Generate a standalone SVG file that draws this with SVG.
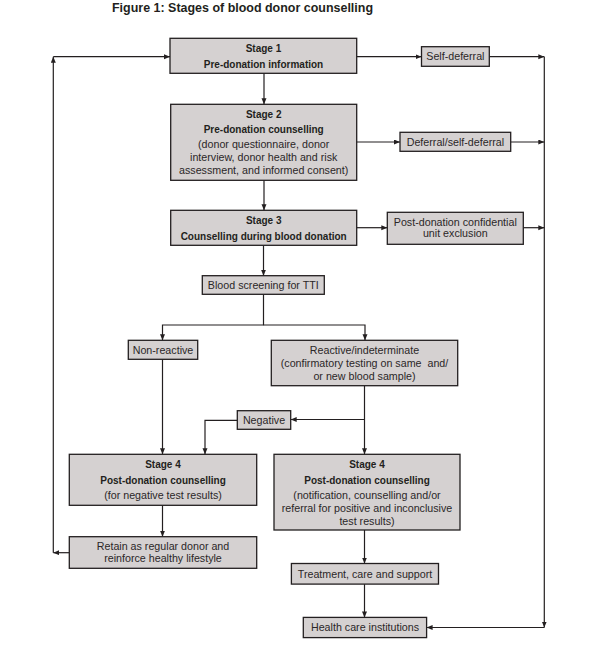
<svg xmlns="http://www.w3.org/2000/svg" width="597" height="647" viewBox="0 0 597 647">
<defs>
<marker id="ah" markerUnits="userSpaceOnUse" markerWidth="7" markerHeight="6" refX="6" refY="2.5" orient="auto">
<path d="M0,0 L6,2.5 L0,5 z" fill="#231f20"/>
</marker>
<style>
.box{fill:#d5d1d1;stroke:#231f20;stroke-width:1.3}
.t{font-family:"Liberation Sans",Arial,sans-serif;font-size:10.7px;fill:#2b2728;text-anchor:middle}
.b{font-weight:bold;font-size:10px;fill:#231f20}
.c{fill:none;stroke:#231f20;stroke-width:1.2}
.a{marker-end:url(#ah)}
</style>
</defs>
<rect width="597" height="647" fill="#ffffff"/>
<text x="242.5" y="12" font-family="'Liberation Sans',Arial,sans-serif" font-size="12.5" font-weight="bold" fill="#231f20" text-anchor="middle" textLength="261" lengthAdjust="spacingAndGlyphs">Figure 1: Stages of blood donor counselling</text>

<g id="connectors">
<path class="c a" d="M264,73.3 V104.3"/>
<path class="c a" d="M264,180.3 V210.3"/>
<path class="c a" d="M263.5,245.3 V275.7"/>
<path class="c a" d="M263.5,294.3 V325 H162.5 V340.3"/>
<path class="c a" d="M263.5,325 H365 V340.3"/>
<path class="c a" d="M162.5,359.3 V454.3"/>
<path class="c a" d="M364.5,385.7 V454.3"/>
<path class="c a" d="M364.5,419.5 H290.7"/>
<path class="c a" d="M237.3,420.3 H205 V454.3"/>
<path class="c a" d="M162.5,505.3 V536.7"/>
<path class="c a" d="M69.3,552.7 H53.3"/>
<path class="c a" d="M53.3,552.7 V56.7"/>
<path class="c a" d="M53.3,56.7 H170"/>
<path class="c a" d="M356.7,56.7 H421.5"/>
<path class="c a" d="M489.3,56.7 H544.3"/>
<path class="c a" d="M356.7,142 H400"/>
<path class="c a" d="M510.7,142 H544.3"/>
<path class="c a" d="M356.7,227.7 H387.3"/>
<path class="c a" d="M523.3,227.7 H544.3"/>
<path class="c a" d="M544.3,56.7 V627.5"/>
<path class="c a" d="M544.3,627.5 H426.6"/>
<path class="c a" d="M364.5,530 V563.5"/>
<path class="c a" d="M364.5,584.1 V617.4"/>
</g>

<g id="stage1">
<rect class="box" x="170" y="38.3" width="186.7" height="35"/>
<text class="t b" x="263.5" y="52">Stage 1</text>
<text class="t b" x="263.5" y="67.5">Pre-donation information</text>
</g>
<g id="self-deferral">
<rect class="box" x="421.5" y="46.7" width="67.8" height="19.6"/>
<text class="t" x="455.4" y="60.2">Self-deferral</text>
</g>
<g id="stage2">
<rect class="box" x="170.7" y="104.3" width="186" height="76"/>
<text class="t b" x="263.7" y="118">Stage 2</text>
<text class="t b" x="263.7" y="133">Pre-donation counselling</text>
<text class="t" x="263.7" y="148">(donor questionnaire, donor</text>
<text class="t" x="263.7" y="161">interview, donor health and risk</text>
<text class="t" x="263.7" y="174">assessment, and informed consent)</text>
</g>
<g id="deferral">
<rect class="box" x="400" y="132.3" width="110.7" height="19"/>
<text class="t" x="455.4" y="145.7">Deferral/self-deferral</text>
</g>
<g id="stage3">
<rect class="box" x="170.7" y="210.3" width="186" height="35"/>
<text class="t b" x="263.7" y="223.5">Stage 3</text>
<text class="t b" x="263.7" y="239.5">Counselling during blood donation</text>
</g>
<g id="post-donation-exclusion">
<rect class="box" x="387.3" y="212.3" width="136" height="32"/>
<text class="t" x="455.3" y="225.7">Post-donation confidential</text>
<text class="t" x="455.3" y="237.2">unit exclusion</text>
</g>
<g id="screening">
<rect class="box" x="202.3" y="275.7" width="122" height="18.6"/>
<text class="t" x="263.3" y="288.7">Blood screening for TTI</text>
</g>
<g id="non-reactive">
<rect class="box" x="128.3" y="340.3" width="69.4" height="19"/>
<text class="t" x="163" y="353.7">Non-reactive</text>
</g>
<g id="reactive">
<rect class="box" x="271.3" y="340.3" width="186.4" height="45.4"/>
<text class="t" x="364.5" y="353.7">Reactive/indeterminate</text>
<text class="t" x="364.5" y="367.2" style="white-space:pre">(confirmatory testing on same  and/</text>
<text class="t" x="364.5" y="379.7">or new blood sample)</text>
</g>
<g id="negative">
<rect class="box" x="237.3" y="410.7" width="53.4" height="18.6"/>
<text class="t" x="264" y="423.7">Negative</text>
</g>
<g id="stage4-negative">
<rect class="box" x="69.3" y="454.3" width="187.4" height="51"/>
<text class="t b" x="163" y="468">Stage 4</text>
<text class="t b" x="163" y="484">Post-donation counselling</text>
<text class="t" x="163" y="498.7">(for negative test results)</text>
</g>
<g id="stage4-positive">
<rect class="box" x="274" y="454.3" width="186" height="75.7"/>
<text class="t b" x="367" y="467.5">Stage 4</text>
<text class="t b" x="367" y="483.5">Post-donation counselling</text>
<text class="t" x="367" y="499.2">(notification, counselling and/or</text>
<text class="t" x="367" y="512.2">referral for positive and inconclusive</text>
<text class="t" x="367" y="524.7">test results)</text>
</g>
<g id="retain">
<rect class="box" x="69.3" y="536.7" width="187.4" height="31.6"/>
<text class="t" x="163" y="549.7">Retain as regular donor and</text>
<text class="t" x="163" y="562.2">reinforce healthy lifestyle</text>
</g>
<g id="treatment">
<rect class="box" x="291.4" y="563.5" width="147.1" height="20.6"/>
<text class="t" x="365" y="577.7">Treatment, care and support</text>
</g>
<g id="health-care">
<rect class="box" x="303.3" y="617.4" width="123.3" height="20.2"/>
<text class="t" x="365" y="631.2">Health care institutions</text>
</g>
</svg>
